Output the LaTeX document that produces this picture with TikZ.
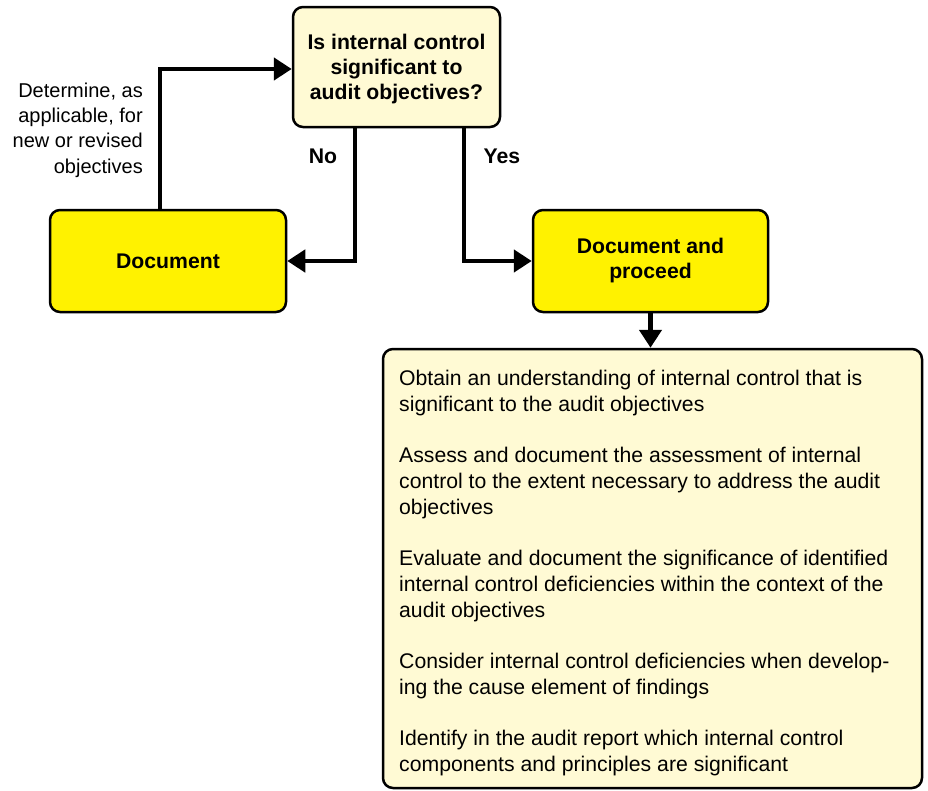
\documentclass[tikz,border=0pt]{standalone}
\usepackage{fontspec}
\setmainfont{Liberation Sans}
\usetikzlibrary{arrows.meta}
\definecolor{brightyel}{HTML}{FFF200}
\definecolor{paleyel}{HTML}{FFFAD4}
\tikzset{
  box/.style={draw=black, line width=2.5pt, rounded corners=10pt, align=center, inner sep=0pt},
  boldtxt/.style={font=\fontsize{21.2}{25}\selectfont\bfseries},
  conn/.style={line width=4.5pt, -{Triangle[length=18pt,width=22pt]}},
  plaintxt/.style={font=\fontsize{21.2}{26}\selectfont}
}
\begin{document}
\begin{tikzpicture}[x=1pt,y=-1pt]
\useasboundingbox (0,0) rectangle (928,790);
\node[box, fill=paleyel, minimum width=207pt, minimum height=120pt] (q) at (396.5,67) {};
\node[boldtxt, align=center, inner sep=0pt] (qtext) at (396.5,69)
  {Is internal control\\significant to\\audit objectives?};
\node[box, boldtxt, fill=brightyel, minimum width=236pt, minimum height=102pt] (doc) at (168,261)
  {Document};
\node[box, boldtxt, fill=brightyel, minimum width=235pt, minimum height=102pt] (proc) at (650.5,261)
  {Document and\\proceed};
\node[box, fill=paleyel, minimum width=539pt, minimum height=439pt] (big) at (652.5,568.5) {};
\node[plaintxt, anchor=north west, align=left, inner sep=0pt] (items) at (399,370)
  {Obtain an understanding of internal control that is\\
   significant to the audit objectives\\[25pt]
   Assess and document the assessment of internal\\
   control to the extent necessary to address the audit\\
   objectives\\[25pt]
   Evaluate and document the significance of identified\\
   internal control deficiencies within the context of the\\
   audit objectives\\[25pt]
   Consider internal control deficiencies when develop-\\
   ing the cause element of findings\\[25pt]
   Identify in the audit report which internal control\\
   components and principles are significant};
\node[align=right, anchor=east, inner sep=0pt, font=\fontsize{20}{25.3}\selectfont] (det) at (143,130)
  {Determine, as\\applicable, for\\new or revised\\objectives};
\node[boldtxt] (no) at (323,156) {No};
\node[boldtxt] (yes) at (502,156) {Yes};
\draw[conn] ([xshift=-8pt]doc.north) |- ([yshift=-2pt]q.west);
\draw[conn] ([xshift=-41.5pt]q.south) |- (doc.east);
\draw[conn] ([xshift=67.5pt]q.south) |- (proc.west);
\draw[conn] (proc.south) -- (proc.south |- big.north);
\end{tikzpicture}
\end{document}
